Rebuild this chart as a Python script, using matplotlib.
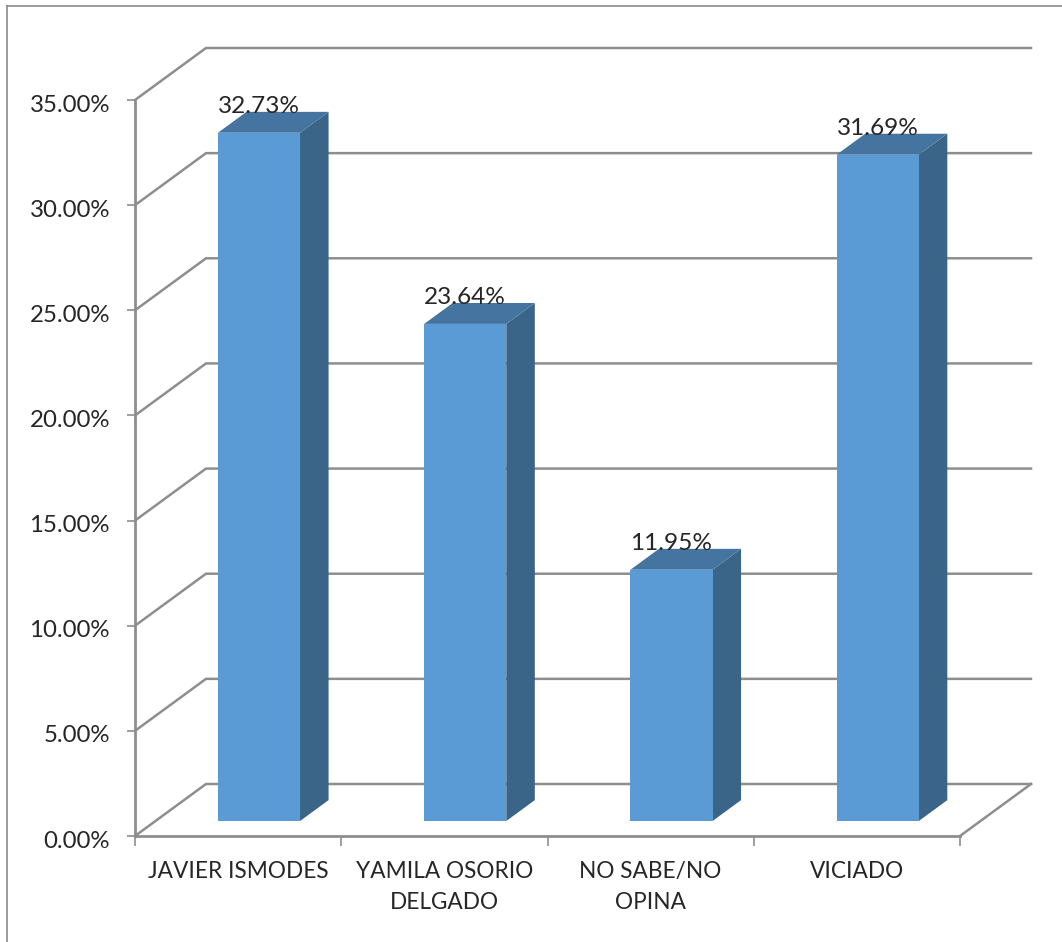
import matplotlib
matplotlib.use("Agg")
import matplotlib.pyplot as plt
from matplotlib.patches import Polygon
from matplotlib.lines import Line2D
from matplotlib.transforms import ScaledTranslation

categories = ["JAVIER ISMODES", "YAMILA OSORIO\nDELGADO", "NO SABE/NO\nOPINA", "VICIADO"]
values = [32.73, 23.64, 11.95, 31.69]
y_ticks = [0, 5, 10, 15, 20, 25, 30, 35]

W, H = 1062, 942
plt.rcParams['font.family'] = ['Lato', 'DejaVu Sans']
fig = plt.figure(figsize=(W / 100, H / 100), dpi=100, facecolor='white')

L, R, T, B = 135, 960, 100, 836
ax = fig.add_axes([L / W, 1 - B / H, (R - L) / W, (B - T) / H])
ax.set_xlim(0, 4)
ax.set_ylim(0, 35)
ax.patch.set_visible(False)

DX = 71 / ((R - L) / 4)
DY = 52 / ((B - T) / 35)
GRID = '#8e8e8e'
FRONT, SIDE, TOP = '#5b9bd5', '#3a6488', '#44749f'
D0, D1 = 0.288, 0.69
GAP, BW = 0.303, 0.398


def pr(x, y, d):
    return (x + d * DX, y + d * DY)


for t in y_ticks:
    pts = [pr(0, t, 0), pr(0, t, 1), pr(4, t, 1)]
    ax.plot(*zip(*pts), color=GRID, lw=1.8, clip_on=False, zorder=1, solid_joinstyle='miter')
ax.plot(*zip(pr(4, 0, 0), pr(4, 0, 1)), color=GRID, lw=1.8, clip_on=False, zorder=1)

for i, v in enumerate(values):
    x0, x1 = i + GAP, i + GAP + BW
    ax.add_patch(Polygon([pr(x1, 0, D0), pr(x1, 0, D1), pr(x1, v, D1), pr(x1, v, D0)],
                         fc=SIDE, ec='none', clip_on=False, zorder=3))
    ax.add_patch(Polygon([pr(x0, v, D0), pr(x1, v, D0), pr(x1, v, D1), pr(x0, v, D1)],
                         fc=TOP, ec='none', clip_on=False, zorder=3))
    ax.add_patch(Polygon([pr(x0, 0, D0), pr(x1, 0, D0), pr(x1, v, D0), pr(x0, v, D0)],
                         fc=FRONT, ec='none', clip_on=False, zorder=4))
    ax.annotate(f"{v:.2f}%", xy=pr((x0 + x1) / 2, v, D0), xytext=(0, 26 * 0.72),
                textcoords='offset points', ha='center', va='center',
                fontsize=17.6, color='#262626', zorder=5, annotation_clip=False)

for s in ('top', 'right'):
    ax.spines[s].set_visible(False)
for s in ('left', 'bottom'):
    ax.spines[s].set_color(GRID)
    ax.spines[s].set_linewidth(2.0)
    ax.spines[s].set_zorder(2)

ax.set_yticks(y_ticks)
ax.set_yticklabels([f"{t:.2f}%" for t in y_ticks], fontsize=17.3, color='#262626')
ax.set_xticks(range(5))
ax.set_xticklabels([])
ax.tick_params(axis='both', color=GRID, width=1.2, length=6)
ax.tick_params(axis='y', pad=12)
ax.tick_params(axis='x', length=7)
shift = ScaledTranslation(0, -3 / 100, fig.dpi_scale_trans)
for lab in ax.get_yticklabels():
    lab.set_transform(lab.get_transform() + shift)

for i, c in enumerate(categories):
    ax.annotate(c, xy=(i + 0.5, 0), xytext=(0, -(861 - B) * 0.72),
                textcoords='offset points', ha='center', va='top',
                fontsize=16.3, color='#262626', linespacing=1.6, annotation_clip=False)

fig.add_artist(Line2D([7 / W, 7 / W], [0, 1 - 6 / H], color='#8a8a8a', lw=1.2))
fig.add_artist(Line2D([7 / W, 1], [1 - 6 / H, 1 - 6 / H], color='#8a8a8a', lw=1.2))

fig.savefig("out.png", dpi=100, facecolor='white')
